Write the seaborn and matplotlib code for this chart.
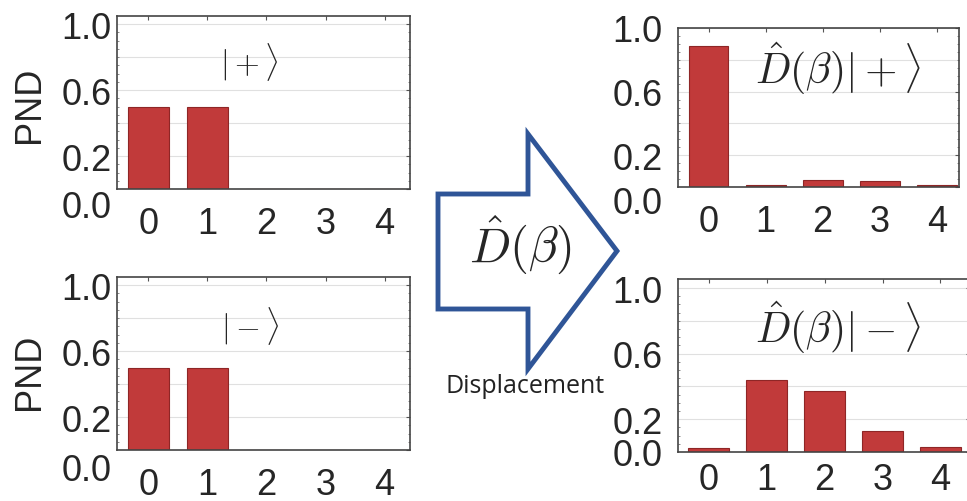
import matplotlib
matplotlib.use('Agg')
import matplotlib.pyplot as plt
import matplotlib.transforms as mtransforms
from matplotlib.patches import Polygon
import seaborn as sns

# photon numbers and photon number distributions
photon_n = ['0', '1', '2', '3', '4']
pnd_plus = [0.5, 0.5, 0.0, 0.0, 0.0]
pnd_minus = [0.5, 0.5, 0.0, 0.0, 0.0]
pnd_disp_plus = [0.885, 0.015, 0.047, 0.038, 0.01]
pnd_disp_minus = [0.027, 0.44, 0.37, 0.128, 0.03]

state_labels = [r'$|+\rangle$', r'$|-\rangle$',
                r'$\hat{D}(\beta)|+\rangle$', r'$\hat{D}(\beta)|-\rangle$']
ytick_vals = [0.0, 0.2, 0.6, 1.0]
ytick_text = ['0.0', '0.2', '0.6', '1.0']

sns.set_style('white')
plt.rcParams['font.family'] = ['Liberation Sans', 'DejaVu Sans']
plt.rcParams['mathtext.fontset'] = 'cm'

W, H = 967, 502
fig = plt.figure(figsize=(W / 100, H / 100), dpi=100)

bar_color = '#c13a3a'
edge_color = '#8e2626'


def px_rect(left, top, right, bottom):
    return [left / W, 1 - bottom / H, (right - left) / W, (bottom - top) / H]


# panel: (rect in pixels, data, ylim top, xlim, ytick pad, xtick pad, 0.0 label shift px)
panels = [
    (px_rect(117, 17, 410, 190), pnd_plus, 1.05, (-0.53, 4.43), 4, 12, -15),
    (px_rect(117, 278, 410, 451), pnd_minus, 1.05, (-0.53, 4.43), 4, 12, -17),
    (px_rect(678, 29, 959, 188), pnd_disp_plus, 1.0, (-0.535, 4.39), 11, 12, -12),
    (px_rect(678, 280, 970, 453), pnd_disp_minus, 1.055, (-0.53, 4.51), 11, 7, 0),
]

for rect, vals, ytop, xl, ypad, xpad, shift in panels:
    ax = fig.add_axes(rect)
    sns.barplot(x=photon_n, y=vals, color=bar_color, width=0.7,
                edgecolor=edge_color, linewidth=0.8, saturation=1, ax=ax)
    ax.set_ylim(0, ytop)
    ax.set_xlim(*xl)
    for g in [0.2, 0.4, 0.6, 0.8, 1.0]:
        ax.axhline(g, color='#e0e0e0', lw=0.8, zorder=0)
    ax.set_yticks(ytick_vals)
    ax.set_yticklabels(ytick_text)
    ax.set_yticks([i / 20 for i in range(21) if i / 20 <= ytop], minor=True)
    ax.tick_params(axis='both', which='major', direction='in', length=3,
                   width=0.8, color='#555555', labelsize=26,
                   top=True, right=True)
    ax.tick_params(axis='x', pad=xpad)
    ax.tick_params(axis='y', pad=ypad)
    ax.tick_params(axis='y', which='minor', direction='in', length=1.5,
                   width=0.6, color='#777777', left=True, right=True)
    ax.set_xlabel('')
    ax.set_ylabel('')
    for s in ax.spines.values():
        s.set_color('#444444')
        s.set_linewidth(1.2)
    zero_lab = ax.get_yticklabels()[0]
    zero_lab.set_transform(zero_lab.get_transform() +
                           mtransforms.ScaledTranslation(0, shift / 100, fig.dpi_scale_trans))

# overlay in pixel coordinates for labels and the arrow
ov = fig.add_axes([0, 0, 1, 1], zorder=10)
ov.set_xlim(0, W)
ov.set_ylim(H, 0)
ov.axis('off')
ov.patch.set_alpha(0)

ov.text(249, 62, state_labels[0], fontsize=23, ha='center', va='center')
ov.text(250, 326, state_labels[1], fontsize=23, ha='center', va='center')
ov.text(838, 69, state_labels[2], fontsize=30, ha='center', va='center')
ov.text(838, 328, state_labels[3], fontsize=30, ha='center', va='center')

ov.text(29, 105, 'PND', fontsize=26, rotation=90, ha='center', va='center')
ov.text(29, 372, 'PND', fontsize=26, rotation=90, ha='center', va='center')

arrow = Polygon([(438, 195), (528, 195), (528, 135), (617, 252),
                 (528, 370), (528, 310), (438, 310)],
                closed=True, fill=False, edgecolor='#2f5597', lw=3.5,
                joinstyle='miter')
ov.add_patch(arrow)
ov.text(520, 245, r'$\hat{D}(\beta)$', fontsize=35, ha='center', va='center')
ov.text(525, 387, 'Displacement', fontsize=18, ha='center', va='center',
        family=['Open Sans', 'DejaVu Sans'], color='#222222')

fig.savefig('out.png', dpi=100)
